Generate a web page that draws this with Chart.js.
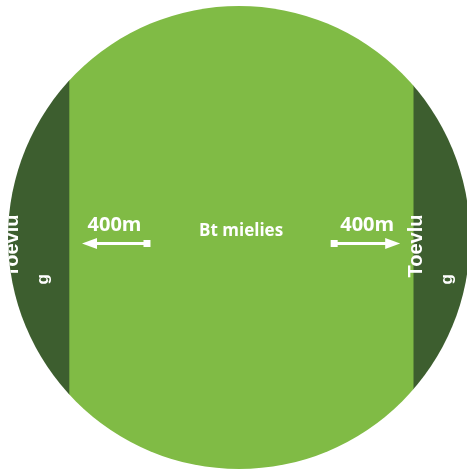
<!DOCTYPE html>
<html>
<head>
<meta charset="utf-8">
<script src="https://cdn.jsdelivr.net/npm/chart.js@4/dist/chart.umd.min.js"></script>
<style>
  html, body { margin: 0; padding: 0; background: #fff; overflow: hidden; }
  #wrap { position: absolute; left: 0; top: 0; }
</style>
</head>
<body>
<div id="wrap"><canvas id="veld" width="471" height="470"></canvas></div>
<script>
// strips across the field, left to right (share of field width, %)
const strips = ['Toevlug', 'Bt mielies', 'Toevlug'];
const widths = [13.2, 74.5, 12.3];
const colours = ['#3d5e2f', '#80bb45', '#3d5e2f'];
const distanceLabel = '400m';

// clip the field to a round shape
const roundField = {
    id: 'roundField',
    beforeDatasetsDraw(chart) {
        const a = chart.chartArea;
        const ctx = chart.ctx;
        ctx.save();
        ctx.beginPath();
        ctx.ellipse((a.left + a.right) / 2, (a.top + a.bottom) / 2,
            (a.right - a.left) / 2, (a.bottom - a.top) / 2, 0, 0, Math.PI * 2);
        ctx.clip();
    },
    afterDatasetsDraw(chart) {
        const ctx = chart.ctx;
        const x = chart.scales.x;
        const a = chart.chartArea;
        const midY = (a.top + a.bottom) / 2;

        // strip edges in pixels
        const edges = [0];
        widths.forEach((w, i) => edges.push(edges[i] + w));
        const px = edges.map(v => x.getPixelForValue(v));

        ctx.fillStyle = '#fff';

        // refuge strips: rotated, wrapped label
        [0, 2].forEach(i => {
            const c = (px[i] + px[i + 1]) / 2;
            const word = strips[i];
            ctx.save();
            ctx.translate(c - 20, midY + 40);
            ctx.rotate(-Math.PI / 2);
            ctx.font = 'bold 20px "Liberation Sans"';
            ctx.textAlign = 'left';
            ctx.textBaseline = 'alphabetic';
            ctx.fillText(word.slice(0, -1), 0, 0);
            ctx.restore();
            ctx.save();
            ctx.translate(c + 10, midY + 47);
            ctx.rotate(-Math.PI / 2);
            ctx.font = 'bold 17px "Liberation Sans"';
            ctx.fillText(word.slice(-1), 0, 0);
            ctx.restore();
        });

        // middle label
        ctx.font = 'bold 17px "Open Sans"';
        ctx.textAlign = 'center';
        ctx.textBaseline = 'alphabetic';
        ctx.fillText(strips[1], (px[1] + px[2]) / 2, midY - 2);

        // distance arrows pointing outwards from the Bt block
        const drawArrow = (tail, tip) => {
            const y = midY + 6;
            const dir = Math.sign(tip - tail);
            ctx.strokeStyle = '#fff';
            ctx.lineWidth = 3;
            ctx.beginPath();
            ctx.moveTo(tail, y);
            ctx.lineTo(tip - dir * 12, y);
            ctx.stroke();
            ctx.beginPath();
            ctx.moveTo(tip, y);
            ctx.lineTo(tip - dir * 15, y - 5.5);
            ctx.lineTo(tip - dir * 15, y + 5.5);
            ctx.closePath();
            ctx.fill();
            ctx.fillRect(tail - 3.5, y - 3.5, 7, 7);
            ctx.font = 'bold 20px "Open Sans"';
            ctx.textAlign = 'center';
            ctx.fillText(distanceLabel, (tail + tip) / 2, midY - 7);
        };
        drawArrow(px[1] + 78, px[1] + 13);
        drawArrow(px[2] - 79, px[2] - 13);

        ctx.restore();
    }
};

new Chart(document.getElementById('veld'), {
    type: 'bar',
    data: {
        labels: ['veld'],
        datasets: strips.map((s, i) => ({
            label: s,
            data: [widths[i]],
            backgroundColor: colours[i],
            borderWidth: 0,
            barPercentage: 1,
            categoryPercentage: 1
        }))
    },
    options: {
        indexAxis: 'y',
        responsive: false,
        animation: false,
        layout: { padding: { left: 8, right: 1, top: 6, bottom: 1 } },
        scales: {
            x: { stacked: true, min: 0, max: 100, display: false },
            y: { stacked: true, display: false }
        },
        plugins: {
            legend: { display: false },
            tooltip: { enabled: false }
        }
    },
    plugins: [roundField]
});
</script>
</body>
</html>
